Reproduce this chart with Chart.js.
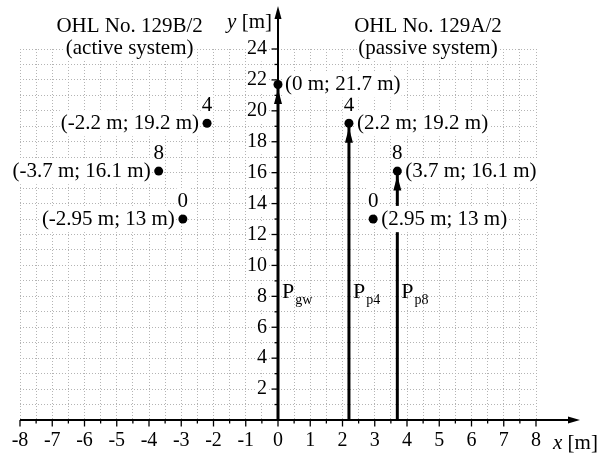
<!DOCTYPE html>
<html>
<head>
<meta charset="utf-8">
<script src="https://cdn.jsdelivr.net/npm/chart.js@4/dist/chart.umd.min.js"></script>
<style>
  html, body { margin: 0; padding: 0; background: #fff; }
  canvas { display: block; }
</style>
</head>
<body>
<canvas id="c" width="601" height="454"></canvas>
<script>
// Conductor positions (m) of the active circuit, OHL No. 129B/2
const activeX = [-2.2, -3.7, -2.95];
const activeY = [19.2, 16.1, 13];
// Conductor positions (m) of the passive circuit, OHL No. 129A/2
const passiveX = [2.2, 3.7, 2.95];
const passiveY = [19.2, 16.1, 13];
// Phase numbers written above the conductors
const phaseNames = ['4', '8', '0'];
// Ground wire
const groundX = [0];
const groundY = [21.7];
// Vertical arrows P_gw, P_p4, P_p8 (from ground to the conductor)
const arrowX = [0, 2.2, 3.7];
const arrowTop = [21.7, 19.2, 16.1];
const arrowSub = ['gw', 'p4', 'p8'];
const arrowLabelY = 7.9;
// Axis ranges and tick steps
const xMin = -8, xMax = 8, xStep = 0.5;
const yMin = 0, yMax = 24, yStep = 1;

const SERIF = "'Liberation Serif', 'Times New Roman', 'DejaVu Serif', serif";
const coordText = (x, y) => `(${x} m; ${y} m)`;

const datasets = [];
arrowX.forEach((x, i) => {
  datasets.push({
    data: [{ x: x, y: 0 }, { x: x, y: arrowTop[i] }],
    showLine: true,
    borderColor: '#000',
    borderWidth: 3,
    borderCapStyle: 'butt',
    pointRadius: 0,
    order: 2
  });
});
const allPoints = [];
activeX.forEach((x, i) => allPoints.push({ x: x, y: activeY[i] }));
passiveX.forEach((x, i) => allPoints.push({ x: x, y: passiveY[i] }));
groundX.forEach((x, i) => allPoints.push({ x: x, y: groundY[i] }));
datasets.push({
  data: allPoints,
  backgroundColor: '#000',
  borderColor: '#000',
  borderWidth: 0,
  pointRadius: 4.5,
  order: 0
});

function textWithBackdrop(ctx, str, x, y, align, size, baseline, italic) {
  ctx.font = (italic ? 'italic ' : '') + size + 'px ' + SERIF;
  const w = ctx.measureText(str).width;
  const left = align === 'right' ? x - w : (align === 'center' ? x - w / 2 : x);
  const h = size * 1.25;
  const cy = baseline === 'middle' ? y : y - size * 0.3;
  ctx.fillStyle = '#fff';
  ctx.fillRect(left - 1, cy - h / 2, w + 2, h);
  ctx.fillStyle = '#000';
  ctx.textAlign = 'left';
  ctx.textBaseline = baseline;
  ctx.fillText(str, left, y);
  return w;
}

function arrowHead(ctx, tipX, tipY, dir, len, half) {
  ctx.beginPath();
  if (dir === 'up') {
    ctx.moveTo(tipX, tipY);
    ctx.lineTo(tipX - half, tipY + len);
    ctx.lineTo(tipX + half, tipY + len);
  } else {
    ctx.moveTo(tipX, tipY);
    ctx.lineTo(tipX - len, tipY - half);
    ctx.lineTo(tipX - len, tipY + half);
  }
  ctx.closePath();
  ctx.fill();
}

// Axes through the origin with arrows, major/minor tick marks and y labels
const axesPlugin = {
  id: 'axesThroughOrigin',
  beforeDatasetsDraw(chart) {
    const { ctx, scales: { x: xs, y: ys } } = chart;
    const ox = xs.getPixelForValue(0);
    const oy = ys.getPixelForValue(0);
    ctx.save();
    // y tick labels, right-aligned left of the vertical axis
    ys.ticks.forEach(t => {
      if (!t.label) return;
      textWithBackdrop(ctx, String(t.label), ox - 11, ys.getPixelForValue(t.value), 'right', 20, 'middle');
    });
    ctx.strokeStyle = '#000';
    ctx.fillStyle = '#000';
    ctx.lineWidth = 2;
    // x axis
    ctx.beginPath();
    ctx.moveTo(xs.getPixelForValue(xMin), oy);
    ctx.lineTo(chart.chartArea.right + 38, oy);
    ctx.stroke();
    arrowHead(ctx, chart.chartArea.right + 44, oy, 'right', 12, 3.5);
    // y axis
    ctx.beginPath();
    ctx.moveTo(ox, oy);
    ctx.lineTo(ox, 14);
    ctx.stroke();
    arrowHead(ctx, ox, 6, 'up', 13, 3.5);
    ctx.lineWidth = 1.3;
    xs.ticks.forEach(t => {
      const px = xs.getPixelForValue(t.value);
      const major = Math.abs(t.value - Math.round(t.value)) < 1e-9;
      ctx.beginPath();
      ctx.moveTo(px, oy);
      ctx.lineTo(px, oy + (major ? 6.5 : 3.5));
      ctx.stroke();
    });
    ys.ticks.forEach(t => {
      if (t.value === 0) return;
      const py = ys.getPixelForValue(t.value);
      const major = t.value % 2 === 0;
      ctx.beginPath();
      ctx.moveTo(ox, py);
      ctx.lineTo(ox - (major ? 6.5 : 3.5), py);
      ctx.stroke();
    });
    ctx.restore();
  },
  afterDatasetsDraw(chart) {
    const { ctx, scales: { x: xs, y: ys } } = chart;
    ctx.save();
    ctx.fillStyle = '#000';
    // arrow heads just below each conductor
    arrowX.forEach((x, i) => {
      arrowHead(ctx, xs.getPixelForValue(x), ys.getPixelForValue(arrowTop[i]) + 4.5, 'up', 15, 4);
    });
    // active circuit: labels to the left
    activeX.forEach((x, i) => {
      const px = xs.getPixelForValue(x), py = ys.getPixelForValue(activeY[i]);
      textWithBackdrop(ctx, coordText(x, activeY[i]), px - 8, py, 'right', 21, 'middle');
      textWithBackdrop(ctx, phaseNames[i], px, py - 18, 'center', 21, 'middle');
    });
    // passive circuit: labels to the right
    passiveX.forEach((x, i) => {
      const px = xs.getPixelForValue(x), py = ys.getPixelForValue(passiveY[i]);
      textWithBackdrop(ctx, coordText(x, passiveY[i]), px + 8, py, 'left', 21, 'middle');
      textWithBackdrop(ctx, phaseNames[i], px, py - 18, 'center', 21, 'middle');
    });
    groundX.forEach((x, i) => {
      const px = xs.getPixelForValue(x), py = ys.getPixelForValue(groundY[i]);
      textWithBackdrop(ctx, coordText(x, groundY[i]), px + 7, py, 'left', 21, 'middle');
    });
    // P labels with subscripts
    arrowX.forEach((x, i) => {
      const px = xs.getPixelForValue(x) + 4;
      const py = ys.getPixelForValue(arrowLabelY);
      ctx.font = '22px ' + SERIF;
      ctx.textAlign = 'left';
      ctx.textBaseline = 'alphabetic';
      ctx.fillText('P', px, py);
      const w = ctx.measureText('P').width;
      ctx.font = '14px ' + SERIF;
      ctx.fillText(arrowSub[i], px + w + 1, py + 6);
    });
    // circuit titles
    const la = xs.getPixelForValue(-4.6), ra = xs.getPixelForValue(4.65);
    textWithBackdrop(ctx, 'OHL No. 129B/2', la, 32, 'center', 21, 'alphabetic');
    textWithBackdrop(ctx, '(active system)', la, 54, 'center', 21, 'alphabetic');
    textWithBackdrop(ctx, 'OHL No. 129A/2', ra, 32, 'center', 21, 'alphabetic');
    textWithBackdrop(ctx, '(passive system)', ra, 54, 'center', 21, 'alphabetic');
    // axis titles
    ctx.fillStyle = '#000';
    ctx.textBaseline = 'alphabetic';
    ctx.textAlign = 'left';
    ctx.font = '21px ' + SERIF;
    const mW = ctx.measureText(' [m]').width;
    const yRight = xs.getPixelForValue(0) - 6;
    ctx.fillText(' [m]', yRight - mW, 28);
    ctx.font = 'italic 21px ' + SERIF;
    const yW = ctx.measureText('y').width;
    ctx.fillText('y', yRight - mW - yW, 28);
    const xLeft = chart.chartArea.right + 17;
    ctx.fillText('x', xLeft, 449);
    const xW = ctx.measureText('x').width;
    ctx.font = '21px ' + SERIF;
    ctx.fillText(' [m]', xLeft + xW, 449);
    ctx.restore();
  }
};

const gridColor = '#b4b4b4';

new Chart(document.getElementById('c'), {
  type: 'scatter',
  data: { datasets: datasets },
  options: {
    responsive: false,
    animation: false,
    events: [],
    layout: { padding: { left: 20, right: 65, top: 49, bottom: 0 } },
    plugins: { legend: { display: false }, tooltip: { enabled: false } },
    scales: {
      x: {
        type: 'linear',
        position: 'bottom',
        min: xMin, max: xMax,
        afterFit(scale) { scale.height = 34; },
        grid: { color: gridColor, lineWidth: 1, drawTicks: false },
        border: { display: false, dash: [1, 2] },
        ticks: {
          stepSize: xStep,
          autoSkip: false,
          maxRotation: 0,
          padding: 9,
          color: '#000',
          font: { family: SERIF, size: 20 },
          callback: v => (Math.abs(v - Math.round(v)) < 1e-9 ? String(Math.round(v)) : '')
        }
      },
      y: {
        type: 'linear',
        position: { x: 0 },
        min: yMin, max: yMax,
        grid: { color: gridColor, lineWidth: 1, drawTicks: false },
        border: { display: false, dash: [1, 2] },
        ticks: {
          display: false,
          stepSize: yStep,
          autoSkip: false,
          callback: v => (v > 0 && v % 2 === 0 ? String(v) : '')
        }
      }
    }
  },
  plugins: [axesPlugin]
});
</script>
</body>
</html>
